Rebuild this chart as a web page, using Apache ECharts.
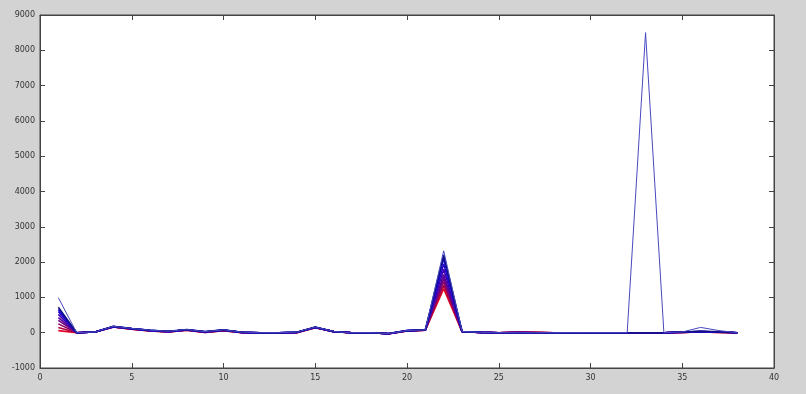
<!DOCTYPE html>
<html>
<head>
<meta charset="utf-8">
<script src="https://cdn.jsdelivr.net/npm/echarts@6/dist/echarts.min.js"></script>
<style>
html,body{margin:0;padding:0;background:#d3d3d3;}
#chart{width:806px;height:394px;}
</style>
</head>
<body>
<div id="chart"></div>
<script>
const xs = [1,2,3,4,5,6,7,8,9,10,11,12,13,14,15,16,17,18,19,20,21,22,23,24,25,26,27,28,29,30,31,32,33,34,35,36,37,38];
const s1 = [60,0,20,160,100,50,20,70,10,60,0,0,0,0,140,30,0,0,-30,50,70,1250,30,10,0,20,10,0,0,-10,0,0,0,0,10,20,10,0];
const s2 = [150,0,20,160,100,50,20,70,10,60,0,0,0,0,140,30,0,0,-30,50,70,1350,30,10,0,15,10,0,0,-10,0,0,0,0,10,20,10,0];
const s3 = [250,0,20,165,105,55,25,75,15,65,5,0,0,5,145,30,0,0,-30,50,70,1450,30,10,0,10,5,0,0,-5,0,0,0,0,10,25,15,0];
const s4 = [350,0,20,165,105,55,25,75,15,65,5,0,0,5,145,30,0,0,-30,55,70,1550,30,10,0,10,5,0,0,-5,0,0,0,0,10,25,15,0];
const s5 = [430,0,20,170,110,60,30,80,20,70,10,0,0,10,150,30,0,0,-30,55,75,1650,30,10,0,5,0,0,0,0,0,0,0,0,15,30,20,0];
const s6 = [520,0,20,170,110,60,30,80,20,70,10,0,0,10,150,30,0,0,-30,55,75,1800,30,10,0,5,0,0,0,0,0,0,0,0,15,30,20,0];
const s7 = [600,0,20,175,115,65,35,85,25,75,10,0,0,10,155,35,0,0,-25,60,75,1950,35,10,0,0,0,0,0,0,0,0,0,0,15,35,20,0];
const s8 = [660,0,20,175,115,65,35,85,25,75,10,0,0,10,155,35,0,0,-25,60,80,2100,35,10,0,0,0,0,0,0,0,0,0,0,20,35,25,0];
const s9 = [720,0,20,180,120,70,40,90,30,80,15,0,0,15,160,35,0,0,-25,60,80,2200,35,10,0,0,0,0,0,0,0,0,0,0,20,40,25,0];
const s10 = [990,0,20,180,120,70,40,90,30,80,15,0,0,15,160,35,0,0,-25,60,80,2320,35,10,0,0,0,0,0,0,0,0,8500,0,20,150,60,0];
const seriesValues = [s1,s2,s3,s4,s5,s6,s7,s8,s9,s10];
const seriesColors = ['#e00020','#b00040','#900060','#700080','#58009a','#4000b0','#2800c8','#1808d8','#101080','#4848c0'];
const yTicks = {min:-1000,max:9000,interval:1000};
const xTicks = {min:0,max:40,interval:5};

const chart = echarts.init(document.getElementById('chart'));
const lab = {fontFamily:'DejaVu Sans', fontSize:8, color:'#333', formatter:(v)=>String(v)};
chart.setOption({
  backgroundColor:'#d3d3d3',
  animation:false,
  grid:{left:40,right:32,top:15,bottom:26,show:true,backgroundColor:'#ffffff',borderColor:'#444',borderWidth:1},
  xAxis:[
    {type:'value',min:xTicks.min,max:xTicks.max,interval:xTicks.interval,position:'bottom',
     axisLine:{show:true,onZero:false,lineStyle:{color:'#444',width:1}},
     axisTick:{show:true,inside:true,length:5,lineStyle:{color:'#444'}},
     axisLabel:Object.assign({margin:6},lab),splitLine:{show:false}},
    {type:'value',min:xTicks.min,max:xTicks.max,interval:xTicks.interval,position:'top',
     axisLine:{show:true,onZero:false,lineStyle:{color:'#444',width:1}},
     axisTick:{show:true,inside:true,length:5,lineStyle:{color:'#444'}},
     axisLabel:{show:false},splitLine:{show:false}}
  ],
  yAxis:[
    {type:'value',min:yTicks.min,max:yTicks.max,interval:yTicks.interval,position:'left',
     axisLine:{show:true,onZero:false,lineStyle:{color:'#444',width:1}},
     axisTick:{show:true,inside:true,length:5,lineStyle:{color:'#444'}},
     axisLabel:Object.assign({margin:5},lab),splitLine:{show:false}},
    {type:'value',min:yTicks.min,max:yTicks.max,interval:yTicks.interval,position:'right',
     axisLine:{show:true,onZero:false,lineStyle:{color:'#444',width:1}},
     axisTick:{show:true,inside:true,length:5,lineStyle:{color:'#444'}},
     axisLabel:{show:false},splitLine:{show:false}}
  ],
  series: seriesValues.map((vals,i)=>({
    type:'line',
    data: xs.map((x,j)=>[x,vals[j]]),
    showSymbol:false,
    lineStyle:{width:i===9?1:1.6,color:seriesColors[i]},
    itemStyle:{color:seriesColors[i]},
    z:2+i
  }))
});
</script>
</body>
</html>
